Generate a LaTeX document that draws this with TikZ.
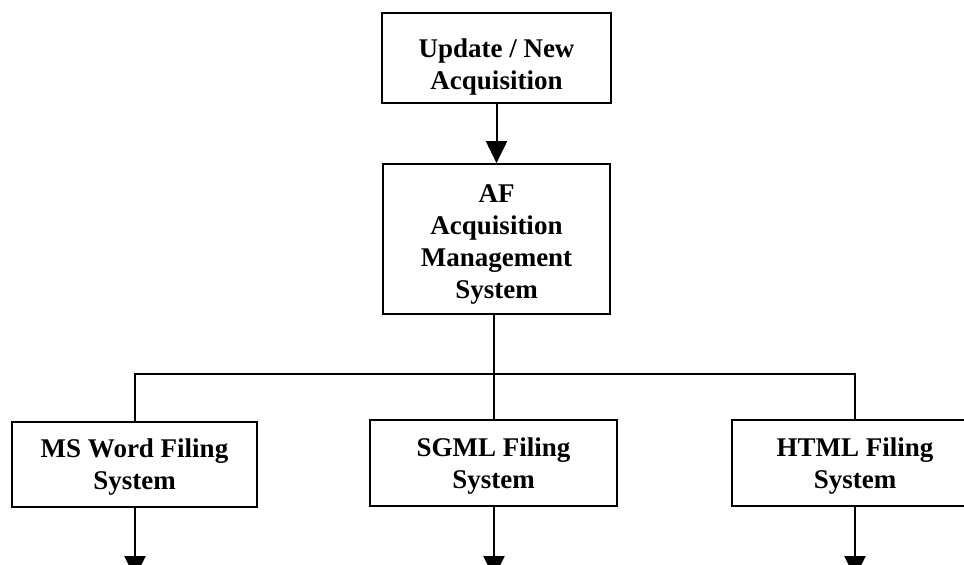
\documentclass[tikz,border=0pt]{standalone}
\usepackage{fontspec}
\setmainfont{Liberation Serif}
\usetikzlibrary{arrows.meta}
\begin{document}
\begin{tikzpicture}[x=1pt,y=-1pt,
  box/.style={draw=black, line width=1.7pt, rectangle, inner sep=0pt},
  txt/.style={align=center, inner sep=0pt, font=\fontsize{27}{32}\selectfont\bfseries},
  conn/.style={line width=2pt, draw=black},
  arr/.style={conn, -{Triangle[width=21pt,length=22pt]}}]
\useasboundingbox (0,0) rectangle (964,565);
\clip (0,0) rectangle (964,565);
\node[box, minimum width=229pt, minimum height=90pt] (top) at (496.5,58) {};
\node[box, minimum width=227pt, minimum height=150pt] (mid) at (496.5,239) {};
\node[box, minimum width=245pt, minimum height=85pt] (ms) at (134.5,464.5) {};
\node[box, minimum width=247pt, minimum height=86pt] (sgml) at (493.5,463) {};
\node[box, minimum width=246pt, minimum height=86pt] (html) at (855,463) {};
\node[txt] (topT) at ([yshift=-9pt]top.center) {Update / New\\Acquisition};
\node[txt] (midT) at ([yshift=-5pt]mid.center) {AF\\Acquisition\\Management\\System};
\node[txt] (msT) at ([yshift=-3pt]ms.center) {MS Word Filing\\System};
\node[txt] (sgmlT) at ([yshift=-3pt]sgml.center) {SGML Filing\\System};
\node[txt] (htmlT) at ([yshift=-3pt]html.center) {HTML Filing\\System};
\coordinate (busL) at (135,374);
\coordinate (busR) at (855,374);
\coordinate (busM) at (494,374);
\coordinate (endms) at (135,578);
\coordinate (endsg) at (494,578);
\coordinate (endht) at (855,578);
\draw[arr] (top.south) -- (mid.north);
\draw[conn] (mid.south -| busM) -- (busM);
\draw[conn] (busL |- ms.north) -- (busL) -- (busR) -- (busR |- html.north);
\draw[conn] (busM) -- (busM |- sgml.north);
\draw[arr] (ms.south -| endms) -- (endms);
\draw[arr] (sgml.south -| endsg) -- (endsg);
\draw[arr] (html.south -| endht) -- (endht);
\end{tikzpicture}
\end{document}
